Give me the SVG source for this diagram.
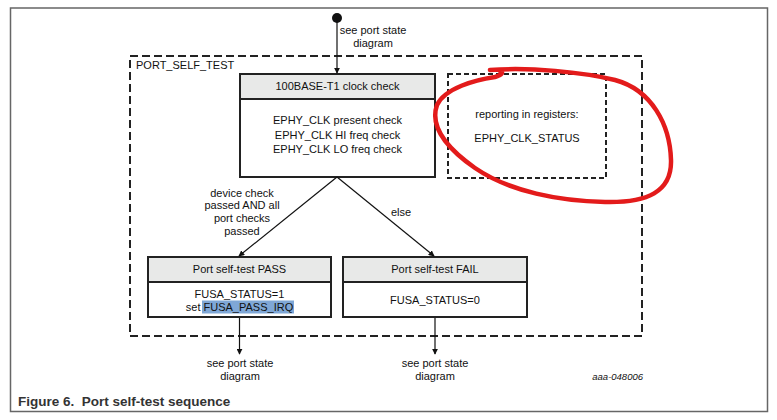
<svg xmlns="http://www.w3.org/2000/svg" width="777" height="420" viewBox="0 0 777 420">
<defs>
<marker id="ah" viewBox="0 0 8 8" refX="7" refY="4" markerWidth="6" markerHeight="6" orient="auto" markerUnits="userSpaceOnUse">
<path d="M0,0 L8,4 L0,8 z" fill="#111"/>
</marker>
<style>
text{font-family:"Liberation Sans",Arial,sans-serif;font-size:11px;fill:#111;}
.c{text-anchor:middle;}
.box{fill:#fff;stroke:#222;stroke-width:2;}
.hdr{fill:#e8e9e8;stroke:#222;stroke-width:2;}
.ln{stroke:#111;stroke-width:1.2;fill:none;}
</style>
</defs>
<rect x="0" y="0" width="777" height="420" fill="#fff"/>
<rect x="10.5" y="8" width="757" height="403.5" fill="none" stroke="#666" stroke-width="1.5"/>

<g id="port_self_test">
<rect x="130" y="56" width="512" height="280" fill="none" stroke="#222" stroke-width="2" stroke-dasharray="8 4"/>
<text x="136" y="69">PORT_SELF_TEST</text>
</g>

<g id="start">
<circle cx="337" cy="18" r="5" fill="#111"/>
<text x="373" y="34" class="c">see port state</text>
<text x="373" y="47" class="c">diagram</text>
</g>

<g id="clock_check">
<rect class="box" x="240" y="74" width="195" height="103"/>
<rect class="hdr" x="240" y="74" width="195" height="25"/>
<text x="337.5" y="90" class="c">100BASE-T1 clock check</text>
<text x="337.5" y="124" class="c">EPHY_CLK present check</text>
<text x="337.5" y="139" class="c">EPHY_CLK HI freq check</text>
<text x="337.5" y="153" class="c">EPHY_CLK LO freq check</text>
</g>

<g id="reporting">
<rect x="448" y="74" width="158" height="104" fill="none" stroke="#222" stroke-width="2" stroke-dasharray="5 3"/>
<text x="527" y="118" class="c">reporting in registers:</text>
<text x="527" y="142" class="c">EPHY_CLK_STATUS</text>
</g>

<g id="pass">
<rect class="box" x="148" y="257" width="183" height="60"/>
<rect class="hdr" x="148" y="257" width="183" height="25"/>
<text x="239.5" y="273" class="c">Port self-test PASS</text>
<rect x="202" y="300.5" width="92" height="13" fill="#7fa7d6"/>
<text x="239.5" y="298" class="c">FUSA_STATUS=1</text>
<text x="239.5" y="311" class="c">set FUSA_PASS_IRQ</text>
</g>

<g id="fail">
<rect class="box" x="343" y="257" width="184" height="60"/>
<rect class="hdr" x="343" y="257" width="184" height="25"/>
<text x="435" y="273" class="c">Port self-test FAIL</text>
<text x="435" y="304" class="c">FUSA_STATUS=0</text>
</g>

<g id="connectors">
<line class="ln" x1="337" y1="18" x2="337" y2="73" marker-end="url(#ah)"/>
<line class="ln" x1="337" y1="177" x2="239" y2="256" marker-end="url(#ah)"/>
<line class="ln" x1="337" y1="177" x2="434" y2="256" marker-end="url(#ah)"/>
<line class="ln" x1="239.5" y1="318" x2="239.5" y2="354" marker-end="url(#ah)"/>
<line class="ln" x1="435" y1="318" x2="435" y2="354" marker-end="url(#ah)"/>
<text x="242" y="197" class="c">device check</text>
<text x="242" y="209" class="c">passed AND all</text>
<text x="242" y="222" class="c">port checks</text>
<text x="242" y="235" class="c">passed</text>
<text x="401" y="216" class="c">else</text>
</g>

<g id="end_pass">
<text x="240" y="367" class="c">see port state</text>
<text x="240" y="380" class="c">diagram</text>
</g>
<g id="end_fail">
<text x="435" y="367" class="c">see port state</text>
<text x="435" y="380" class="c">diagram</text>
</g>

<path d="M490,70 C530,67 582,72 615,80 C652,90 670,125 671,160 C672,192 647,203 605,202 C560,201 510,192 475,168 C445,147 430,125 437,105 C445,88 475,80 495,77 C502,75 504,72 500,71" fill="none" stroke="#e31b1b" stroke-width="4.5" stroke-linecap="round" stroke-linejoin="round"/>

<text x="643" y="380" style="font-style:italic;font-size:9.5px;text-anchor:end;">aaa-048006</text>
<text x="18" y="406" xml:space="preserve" style="font-weight:bold;font-size:13.5px;fill:#333;white-space:pre;">Figure 6.  Port self-test sequence</text>
</svg>
